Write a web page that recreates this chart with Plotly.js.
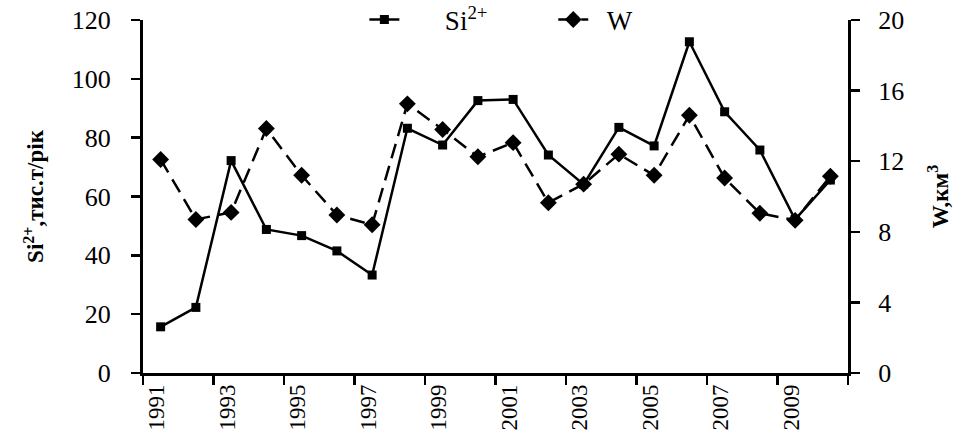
<!DOCTYPE html>
<html>
<head>
<meta charset="utf-8">
<script src="https://cdn.plot.ly/plotly-3.0.1.min.js"></script>
<style>html,body{margin:0;padding:0;background:#fff;}#chart{width:966px;height:441px;}</style>
</head>
<body>
<div id="chart"></div>
<script>
const years = [1991,1992,1993,1994,1995,1996,1997,1998,1999,2000,2001,2002,2003,2004,2005,2006,2007,2008,2009,2010];
const si = [15.7,22.3,72.2,48.8,46.7,41.5,33.3,83.2,77.5,92.6,93.0,74.1,64.1,83.5,77.2,112.6,88.8,75.8,52.2,65.6];
const w = [12.1,8.7,9.1,13.85,11.2,8.95,8.4,15.25,13.8,12.25,13.05,9.65,10.7,12.4,11.2,14.6,11.05,9.05,8.65,11.15];
const yearLabels = ['1991','1993','1995','1997','1999','2001','2003','2005','2007','2009'];
const labelVals = yearLabels.map(Number);
const boundaryTicks = [];
for (let i = 0; i <= years.length; i += 2) boundaryTicks.push(years[0] - 0.5 + i);

const fam = 'Liberation Serif, Times New Roman, serif';
const f = (size) => ({family: fam, size: size, color: '#000'});
const sp = (n) => '&nbsp;'.repeat(n);
const traces = [
  {x: years, y: si, name: sp(6) + 'Si<sup>2+</sup>' + sp(9), type: 'scatter', mode: 'lines+markers',
   xaxis: 'x', yaxis: 'y',
   line: {color: '#000', width: 2.5}, marker: {symbol: 'square', size: 9, color: '#000'}},
  {x: years, y: w, name: sp(2) + 'W', type: 'scatter', mode: 'lines+markers',
   xaxis: 'x2', yaxis: 'y2',
   line: {color: '#000', width: 2.5, dash: '15px,8px'}, marker: {symbol: 'diamond', size: 13, color: '#000'}}
];
const xr = [years[0] - 0.5, years[years.length - 1] + 0.5];
const axLine = {ticks: 'outside', ticklen: 9, tickwidth: 2.5, tickcolor: '#000',
                showline: true, linewidth: 3, linecolor: '#000', showgrid: false, zeroline: false};
const layout = {
  width: 966, height: 441,
  margin: {l: 143, r: 118, t: 20, b: 68, autoexpand: false},
  paper_bgcolor: '#fff', plot_bgcolor: '#fff',
  font: f(24),
  showlegend: true,
  legend: {orientation: 'h', x: 0.314, xanchor: 'left', y: 1.0, yanchor: 'middle',
           font: f(27), bgcolor: 'rgba(0,0,0,0)'},
  xaxis: Object.assign({range: xr, tickmode: 'array', tickvals: boundaryTicks, showticklabels: false}, axLine),
  xaxis2: {range: xr, overlaying: 'x', anchor: 'y', side: 'bottom', tickmode: 'array', tickvals: labelVals, ticktext: yearLabels,
           ticks: '', tickangle: -90, tickfont: f(23), ticklabelshift: -4, ticklabelstandoff: 6,
           showline: false, showgrid: false, zeroline: false},
  yaxis: Object.assign({range: [0, 120], tickmode: 'linear', tick0: 0, dtick: 20,
          tickfont: f(26), ticklabelstandoff: 15,
          title: {text: '<b>Si<sup>2+</sup>,тис.т/рік</b>', font: f(23), standoff: 22}}, axLine),
  yaxis2: Object.assign({range: [0, 20], tickmode: 'linear', tick0: 0, dtick: 4, overlaying: 'y', side: 'right', anchor: 'x',
           tickfont: f(26), ticklabelstandoff: 13,
           title: {text: '<b>W,км<sup>3</sup></b>', font: f(23), standoff: 29}}, axLine)
};
Plotly.newPlot('chart', traces, layout, {displayModeBar: false, staticPlot: true});
</script>
</body>
</html>
